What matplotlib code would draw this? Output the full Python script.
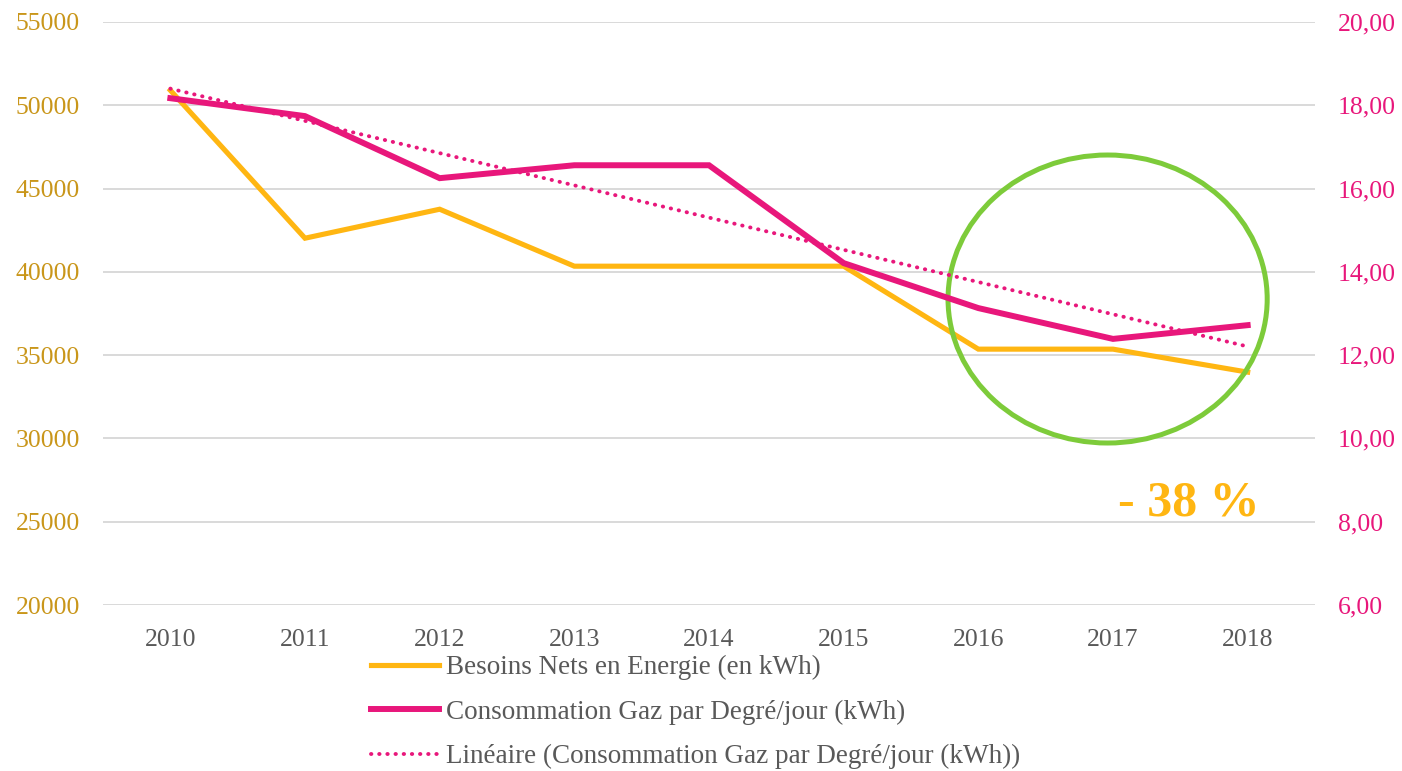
import numpy as np
import matplotlib
matplotlib.use("Agg")
import matplotlib.pyplot as plt
from matplotlib.patches import Ellipse

# Données
annees = ["2010", "2011", "2012", "2013", "2014", "2015", "2016", "2017", "2018"]
besoins_nets = [50900, 42020, 43760, 40340, 40340, 40340, 35360, 35360, 33980]
conso_gaz_dj = [18.17, 17.74, 16.25, 16.56, 16.56, 14.21, 13.13, 12.39, 12.72]
gauche_ticks = [20000, 25000, 30000, 35000, 40000, 45000, 50000, 55000]
droite_ticks = [6, 8, 10, 12, 14, 16, 18, 20]

jaune = "#FFB612"
rose = "#E8177B"
vert = "#7DCB3A"
gris = "#595959"

plt.rcParams["font.family"] = ["Liberation Serif", "DejaVu Serif"]

fig = plt.figure(figsize=(14.02, 7.71), dpi=100, facecolor="white")
ax = fig.add_axes([103 / 1402, 1 - 605 / 771, (1315 - 103) / 1402, (605 - 22) / 771])
ax2 = ax.twinx()

x = np.arange(len(annees))

# axe gauche
l1, = ax.plot(x, besoins_nets, color=jaune, lw=3.7, solid_joinstyle="miter",
              label="Besoins Nets en Energie (en kWh)")
ax.set_ylim(20000, 55000)
ax.set_xlim(-0.5, len(annees) - 0.5)
ax.set_yticks(gauche_ticks)
ax.set_yticklabels([str(v) for v in gauche_ticks])
ax.set_xticks(x)
ax.set_xticklabels(annees)
ax.grid(axis="y", color="#D9D9D9", lw=1.4)
ax.set_axisbelow(True)
ax.tick_params(axis="y", length=0, pad=16.5, labelsize=18.5, labelcolor="#C9961A")
ax.tick_params(axis="x", length=0, pad=17, labelsize=18.5, labelcolor=gris)
for s in ax.spines.values():
    s.set_visible(False)

# axe droit
l2, = ax2.plot(x, conso_gaz_dj, color=rose, lw=4.3, solid_joinstyle="miter",
               label="Consommation Gaz par Degré/jour (kWh)")
pente, origine = np.polyfit(x, conso_gaz_dj, 1)
l3, = ax2.plot(x, pente * x + origine, color=rose, lw=2.8,
               linestyle=(0, (0.1, 2.0)), dash_capstyle="round",
               label="Linéaire (Consommation Gaz par Degré/jour (kWh))")
ax2.set_ylim(6, 20)
ax2.set_yticks(droite_ticks)
ax2.set_yticklabels([f"{v},00" for v in droite_ticks])
ax2.tick_params(axis="y", length=0, pad=16.5, labelsize=18.5, labelcolor=rose)
for s in ax2.spines.values():
    s.set_visible(False)

# cercle et annotation
ax.add_patch(Ellipse((6.96, 38370), 2.37, 17290, fill=False, edgecolor=vert, lw=3.6, zorder=5))
ax.text(7.56, 25400, "- 38 %", color=jaune, fontsize=36, fontweight="bold",
        ha="center", va="baseline", zorder=6)

fig.legend(handles=[l1, l2, l3], loc="upper left", bbox_to_anchor=(371 / 1402, 1 - 655 / 771),
           frameon=False, fontsize=19.5, labelcolor=gris, handlelength=2.5,
           handletextpad=0.28, labelspacing=0.72, borderpad=0, borderaxespad=0)

fig.savefig("out.png", dpi=100, facecolor="white")
